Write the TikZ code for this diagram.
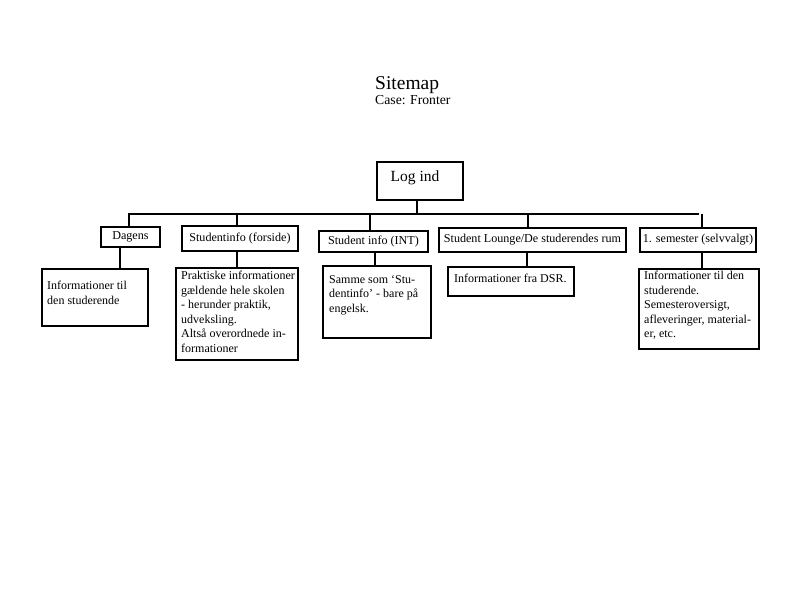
\documentclass[tikz,border=0pt]{standalone}
\usepackage{fontspec}
\setmainfont{Liberation Serif}
\begin{document}
\begin{tikzpicture}[x=1pt,y=-1pt,
  box/.style={draw,line width=1.9pt,inner sep=0pt,anchor=north west},
  hdr/.style={font=\fontsize{12.1}{14}\selectfont},
  txt/.style={anchor=north west,inner sep=0pt,align=left,font=\fontsize{12}{14.5}\selectfont},
  con/.style={line width=2pt}]
\useasboundingbox (0,0) rectangle (800,600);
% title
\node[anchor=north west,inner sep=0pt,font=\fontsize{19.5}{20}\selectfont] (title) at (375,76) {Sitemap};
\node[anchor=north west,inner sep=0pt,font=\fontsize{13.7}{15}\selectfont] (case) at (375,95) {Case: Fronter};
% root
\node[box,minimum width=86pt,minimum height=38pt] (login) at (376,161) {};
\node[font=\fontsize{15.5}{16}\selectfont] (logintxt) at (415,178) {Log ind};
\coordinate (bus) at (0,214);
% headers
\node[box,hdr,minimum width=59pt,minimum height=20pt] (dagens) at (100,226) {Dagens};
\node[box,hdr,minimum width=116pt,minimum height=25pt] (sinfo) at (181,225) {Studentinfo (forside)};
\node[box,hdr,minimum width=109pt,minimum height=21pt] (sint) at (318,230) {Student info (INT)};
\node[box,hdr,minimum width=187pt,minimum height=24pt] (lounge) at (438,227) {Student Lounge/De studerendes rum};
\node[box,hdr,minimum width=116pt,minimum height=24pt] (sem) at (639,227) {1. semester (selvvalgt)};
% content boxes
\node[box,minimum width=106pt,minimum height=57pt] (c1) at (41,268) {};
\node[box,minimum width=122pt,minimum height=92pt] (c2) at (175,267) {};
\node[box,minimum width=108pt,minimum height=72pt] (c3) at (322,265) {};
\node[box,minimum width=126pt,minimum height=29pt] (c4) at (447,266) {};
\node[box,minimum width=120pt,minimum height=80pt] (c5) at (638,268) {};
% texts
\node[txt] (t1) at (47,281) {Informationer til\\den studerende};
\node[txt] (t2) at (181,271) {Praktiske informationer\\gældende hele skolen\\- herunder praktik,\\udveksling.\\Altså overordnede in-\\formationer};
\node[txt] (t3) at (329,275) {Samme som ‘Stu-\\dentinfo’ - bare på\\engelsk.};
\node[txt] (t4) at (454,274) {Informationer fra DSR.};
\node[txt] (t5) at (644,271) {Informationer til den\\studerende.\\Semesteroversigt,\\afleveringer, material-\\er, etc.};
% connectors
\draw[con] ([xshift=-3pt]login.south) -- ([xshift=-3pt]login.south |- bus);
\draw[con] ([xshift=-2pt]dagens.north |- bus) -- ([xshift=1pt]sem.north |- bus);
\draw[con] ([xshift=-1pt]dagens.north |- bus) -- ([xshift=-1pt]dagens.north);
\draw[con] ([xshift=-3pt]sinfo.north |- bus) -- ([xshift=-3pt]sinfo.north);
\draw[con] ([xshift=-3pt]sint.north |- bus) -- ([xshift=-3pt]sint.north);
\draw[con] ([xshift=-4pt]lounge.north |- bus) -- ([xshift=-4pt]lounge.north);
\draw[con] ([xshift=4pt]sem.north |- bus) -- ([xshift=4pt]sem.north);
\draw[con] ([xshift=-10pt]dagens.south) -- ([xshift=-10pt]dagens.south |- c1.north);
\draw[con] ([xshift=-3pt]sinfo.south) -- ([xshift=-3pt]sinfo.south |- c2.north);
\draw[con] ([xshift=2pt]sint.south) -- ([xshift=2pt]sint.south |- c3.north);
\draw[con] ([xshift=-5pt]lounge.south) -- ([xshift=-5pt]lounge.south |- c4.north);
\draw[con] ([xshift=4pt]sem.south) -- ([xshift=4pt]sem.south |- c5.north);
\end{tikzpicture}
\end{document}
